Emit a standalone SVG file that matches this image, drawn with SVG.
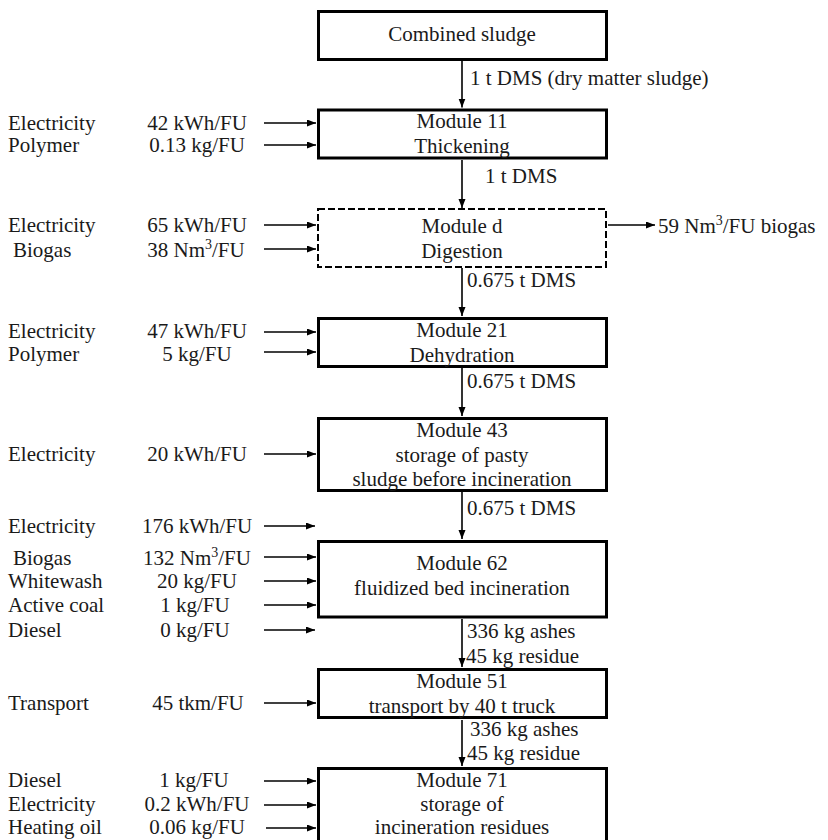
<svg xmlns="http://www.w3.org/2000/svg" width="828" height="840" viewBox="0 0 828 840">
  <style>
    text { font-family: "Liberation Serif", "Times New Roman", serif; font-size: 21px; fill: #1a1a1a; }
    .c { text-anchor: middle; }
    .box { fill: #ffffff; stroke: #000000; stroke-width: 3; }
    .dash { fill: #ffffff; stroke: #000000; stroke-width: 2; stroke-dasharray: 7 3; }
    .flow { stroke: #000000; stroke-width: 1.6; fill: none; marker-end: url(#head); }
    .sup { font-size: 14px; }
  </style>
  <defs>
    <marker id="head" markerUnits="userSpaceOnUse" markerWidth="10" markerHeight="8" refX="9" refY="3.5" orient="auto">
      <path d="M0,0 L9,3.5 L0,7 z" fill="#000000"/>
    </marker>
  </defs>

  <rect width="828" height="840" fill="#ffffff"/>

  <!-- connectors: main sludge line and side inputs / outputs -->
  <g id="connectors">
    <line class="flow" x1="462" y1="61" x2="462" y2="107.5"/>
    <line class="flow" x1="462" y1="160" x2="462" y2="208"/>
    <line class="flow" x1="462" y1="268" x2="462" y2="316"/>
    <line class="flow" x1="462" y1="367.5" x2="462" y2="416"/>
    <line class="flow" x1="462" y1="492" x2="462" y2="539"/>
    <line class="flow" x1="462" y1="619" x2="462" y2="667"/>
    <line class="flow" x1="462" y1="720" x2="462" y2="766"/>
    <line class="flow" x1="608" y1="225" x2="655" y2="225"/>

    <line class="flow" x1="264" y1="123" x2="316" y2="123"/>
    <line class="flow" x1="264" y1="145" x2="316" y2="145"/>
    <line class="flow" x1="264" y1="225" x2="316" y2="225"/>
    <line class="flow" x1="264" y1="249" x2="316" y2="249"/>
    <line class="flow" x1="264" y1="332" x2="316" y2="332"/>
    <line class="flow" x1="264" y1="352" x2="316" y2="352"/>
    <line class="flow" x1="264" y1="454" x2="316" y2="454"/>
    <line class="flow" x1="264" y1="526" x2="315" y2="526"/>
    <line class="flow" x1="264" y1="557" x2="316" y2="557"/>
    <line class="flow" x1="264" y1="581" x2="316" y2="581"/>
    <line class="flow" x1="264" y1="605" x2="316" y2="605"/>
    <line class="flow" x1="264" y1="630" x2="315" y2="630"/>
    <line class="flow" x1="264" y1="703" x2="316" y2="703"/>
    <line class="flow" x1="264" y1="781" x2="316" y2="781"/>
    <line class="flow" x1="264" y1="805" x2="316" y2="805"/>
    <line class="flow" x1="266" y1="828" x2="316" y2="828"/>

    <text x="470" y="85">1 t DMS (dry matter sludge)</text>
    <text x="485" y="183">1 t DMS</text>
    <text x="467" y="287">0.675 t DMS</text>
    <text x="467" y="388">0.675 t DMS</text>
    <text x="467" y="515">0.675 t DMS</text>
    <text x="467" y="638">336 kg ashes</text>
    <text x="466" y="663">45 kg residue</text>
    <text x="470" y="736">336 kg ashes</text>
    <text x="467" y="760">45 kg residue</text>
    <text x="658" y="233">59 Nm<tspan class="sup" dy="-8">3</tspan><tspan dy="8">/FU biogas</tspan></text>
  </g>

  <g id="combined-sludge">
    <rect class="box" x="318.5" y="11.5" width="288" height="48"/>
    <text class="c" x="462" y="41">Combined sludge</text>
  </g>

  <g id="module-11">
    <rect class="box" x="318.5" y="110" width="288" height="48"/>
    <text class="c" x="462" y="128">Module 11</text>
    <text class="c" x="462" y="153">Thickening</text>
    <text x="8" y="130">Electricity</text>
    <text class="c" x="197" y="130">42 kWh/FU</text>
    <text x="8" y="152">Polymer</text>
    <text class="c" x="197" y="152">0.13 kg/FU</text>
  </g>

  <g id="module-d">
    <rect class="dash" x="318" y="209" width="288" height="58"/>
    <text class="c" x="462" y="233">Module d</text>
    <text class="c" x="462" y="258">Digestion</text>
    <text x="8" y="232">Electricity</text>
    <text class="c" x="197" y="232">65 kWh/FU</text>
    <text x="13" y="257">Biogas</text>
    <text class="c" x="196" y="257">38 Nm<tspan class="sup" dy="-8">3</tspan><tspan dy="8">/FU</tspan></text>
  </g>

  <g id="module-21">
    <rect class="box" x="318.5" y="318.5" width="288" height="48"/>
    <text class="c" x="462" y="337">Module 21</text>
    <text class="c" x="462" y="362">Dehydration</text>
    <text x="8" y="338">Electricity</text>
    <text class="c" x="197" y="338">47 kWh/FU</text>
    <text x="8" y="361">Polymer</text>
    <text class="c" x="197" y="361">5 kg/FU</text>
  </g>

  <g id="module-43">
    <rect class="box" x="318.5" y="418.5" width="288" height="72"/>
    <text class="c" x="462" y="437">Module 43</text>
    <text class="c" x="462" y="462">storage of pasty</text>
    <text class="c" x="462" y="486">sludge before incineration</text>
    <text x="8" y="461">Electricity</text>
    <text class="c" x="197" y="461">20 kWh/FU</text>
  </g>

  <g id="module-62">
    <rect class="box" x="318.5" y="541.5" width="288" height="75.5"/>
    <text class="c" x="462" y="570">Module 62</text>
    <text class="c" x="462" y="595">fluidized bed incineration</text>
    <text x="8" y="533">Electricity</text>
    <text class="c" x="197" y="533">176 kWh/FU</text>
    <text x="13" y="565">Biogas</text>
    <text class="c" x="197" y="565">132 Nm<tspan class="sup" dy="-8">3</tspan><tspan dy="8">/FU</tspan></text>
    <text x="8" y="588">Whitewash</text>
    <text class="c" x="197" y="588">20 kg/FU</text>
    <text x="8" y="612">Active coal</text>
    <text class="c" x="195" y="612">1 kg/FU</text>
    <text x="8" y="637">Diesel</text>
    <text class="c" x="195" y="637">0 kg/FU</text>
  </g>

  <g id="module-51">
    <rect class="box" x="318.5" y="669.5" width="288" height="48"/>
    <text class="c" x="462" y="688">Module 51</text>
    <text class="c" x="462" y="713">transport by 40 t truck</text>
    <text x="8" y="710">Transport</text>
    <text class="c" x="198" y="710">45 tkm/FU</text>
  </g>

  <g id="module-71">
    <rect class="box" x="318.5" y="768.5" width="288" height="90"/>
    <text class="c" x="462" y="787">Module 71</text>
    <text class="c" x="462" y="811">storage of</text>
    <text class="c" x="462" y="834">incineration residues</text>
    <text x="8" y="787">Diesel</text>
    <text class="c" x="194" y="787">1 kg/FU</text>
    <text x="8" y="811">Electricity</text>
    <text class="c" x="197" y="811">0.2 kWh/FU</text>
    <text x="8" y="834">Heating oil</text>
    <text class="c" x="197" y="834">0.06 kg/FU</text>
  </g>
</svg>
